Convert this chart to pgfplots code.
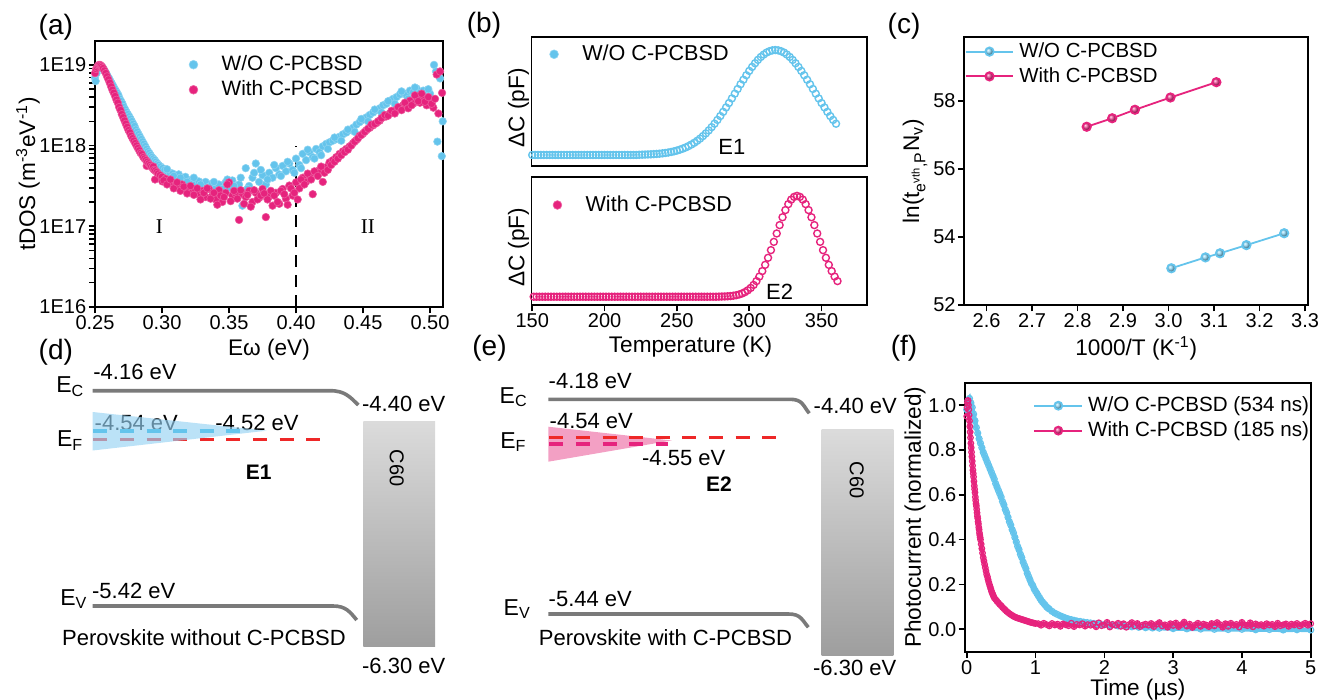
\documentclass[border=0pt]{standalone}
\usepackage{fontspec}
\setmainfont{Liberation Sans}
\newfontfamily\serifroman{Liberation Serif}
\usepackage{pgfplots}
\pgfplotsset{compat=1.18}
\definecolor{cblue}{RGB}{100,196,236}
\definecolor{cpink}{RGB}{230,35,125}
\definecolor{cred}{RGB}{238,40,40}
\definecolor{cgray}{RGB}{122,122,122}
\definecolor{tblue}{RGB}{150,210,243}
\definecolor{tpink}{RGB}{242,150,190}
\newcommand\tfont{\fontsize{10}{12}\selectfont}
\newcommand\lfont{\fontsize{11.3}{13}\selectfont}
\newcommand\gfont{\fontsize{10.4}{12}\selectfont}
\newcommand\pfont{\fontsize{14}{16}\selectfont}
\newcommand\sfont{\fontsize{11}{13}\selectfont}
\newcommand\efont{\fontsize{11.5}{13}\selectfont}
\pgfplotsset{
 panel/.style={scale only axis, axis line style={line width=0.9pt},
   every tick/.style={black, line width=0.8pt}, tick align=outside, major tick length=3.2pt,
   xtick pos=left, ytick pos=left, tick label style={font=\tfont, inner sep=1pt},
   label style={font=\lfont}, /pgf/number format/assume math mode=true,
   legend style={draw=none, fill=none, font=\gfont, inner sep=0pt, row sep=2.5pt,
     nodes={inner xsep=2.5pt, inner ysep=0.5pt}},
   legend cell align=left},
 markleg/.style={legend image code/.code={\path (0cm,0cm) (0.6cm,0cm); \draw[##1] plot coordinates {(0.2cm,0cm)};}},
 lineleg/.style={legend image code/.code={\draw[##1, mark repeat=2, mark phase=2] plot coordinates {(0cm,0cm)(0.42cm,0cm)(0.84cm,0cm)};}},
}
\begin{document}
\begin{tikzpicture}
\path[use as bounding box] (0,0) rectangle (661.5pt,-350pt);

% ---------------- (a)
\begin{axis}[panel, markleg, at={(47.5pt,-153.5pt)}, anchor=south west, width=174pt, height=133pt,
  xmin=0.25, xmax=0.5097, ymode=log, ymin=1e16, ymax=1.98e19,
  xtick={0.25,0.3,0.35,0.4,0.45,0.5}, xticklabels={0.25,0.30,0.35,0.40,0.45,0.50},
  ytick={1e16,1e17,1e18,1e19}, yticklabels={1E16,1E17,1E18,1E19},
  xlabel={Eω (eV)}, ylabel={tDOS (m\textsuperscript{-3}eV\textsuperscript{-1})},
  xlabel style={at={(axis description cs:0.5,-0.162)}, anchor=center},
  ylabel style={at={(axis description cs:-0.1925,0.5)}, anchor=center},
  legend style={at={(axis description cs:0.248,0.95)}, anchor=north west}]
\addlegendimage{only marks, mark=*, mark size=2.2pt, mark options={fill=cblue, draw=cblue!70!white, line width=0.3pt}}
\addlegendentry{W/O C-PCBSD}
\addlegendimage{only marks, mark=*, mark size=2.2pt, mark options={fill=cpink, draw=cpink!70!white, line width=0.3pt}}
\addlegendentry{With C-PCBSD}
\addplot[forget plot, only marks, mark=*, mark size=1.9pt, mark options={fill=cblue, draw=cblue!75!white, line width=0.3pt}] coordinates {
(0.2500,6.9e18)(0.2505,6.3e18)(0.2512,7.9e18)(0.2520,8.9e18)(0.2528,9.5e18)(0.2536,9.8e18)(0.2545,9.5e18)(0.2555,9.3e18)(0.2565,8.9e18)(0.2575,8.3e18)(0.2585,7.8e18)(0.2595,7.2e18)(0.2605,6.8e18)(0.2615,6.3e18)(0.2625,5.9e18)(0.2635,5.5e18)(0.2645,5.1e18)(0.2655,4.8e18)(0.2665,4.5e18)(0.2675,4.2e18)(0.2685,3.8e18)(0.2695,3.55e18)(0.2705,3.3e18)(0.2715,3.0e18)(0.2725,2.8e18)(0.2735,2.6e18)(0.2745,2.45e18)(0.2755,2.3e18)(0.2765,2.15e18)(0.2775,2.0e18)(0.2785,1.86e18)(0.2795,1.74e18)(0.2805,1.58e18)(0.2815,1.48e18)(0.2825,1.38e18)(0.2835,1.29e18)(0.2845,1.20e18)(0.2855,1.12e18)(0.2865,1.05e18)(0.2875,9.8e17)(0.2885,9.1e17)(0.2895,8.5e17)(0.2905,8.1e17)(0.2915,7.6e17)(0.2925,7.2e17)(0.2935,6.9e17)(0.2945,6.6e17)(0.2955,6.3e17)(0.2965,6.0e17)(0.2975,5.75e17)(0.2990,5.5e17)(0.3005,5.25e17)(0.3020,5.0e17)
(0.3040,4.8e17)(0.3060,4.6e17)(0.3080,4.5e17)(0.3100,4.2e17)(0.3125,4.4e17)(0.3150,3.8e17)(0.3175,4.1e17)(0.3200,3.6e17)(0.3225,3.8e17)(0.3250,3.4e17)(0.3275,3.6e17)(0.3300,3.16e17)(0.3325,3.55e17)(0.3350,3.1e17)(0.3375,3.4e17)(0.3400,2.95e17)(0.3425,3.3e17)(0.3450,2.9e17)(0.3475,3.5e17)(0.3500,3.0e17)(0.3525,3.7e17)(0.3550,2.8e17)(0.3575,3.3e17)(0.3600,1.8e17)(0.3625,5.25e17)(0.3650,3.16e17)(0.3675,4.0e17)(0.3700,6.0e17)(0.3725,3.55e17)(0.3750,4.3e17)(0.3775,3.3e17)(0.3800,4.6e17)(0.3825,4.0e17)(0.3850,5.25e17)(0.3875,4.4e17)(0.3900,5.6e17)(0.3925,4.8e17)(0.3950,6.0e17)(0.3975,5.0e17)(0.4000,6.9e17)(0.4025,5.75e17)(0.4050,7.9e17)(0.4075,6.6e17)(0.4100,8.3e17)(0.4125,7.2e17)(0.4150,9.1e17)(0.4175,8.3e17)(0.4200,9.8e17)(0.4225,1.05e18)(0.4250,1.10e18)(0.4275,1.15e18)(0.4300,1.20e18)(0.4325,1.29e18)(0.4350,1.38e18)(0.4375,1.45e18)(0.4400,1.55e18)(0.4425,1.66e18)(0.4450,1.82e18)(0.4475,1.95e18)(0.4500,2.09e18)(0.4525,2.24e18)(0.4550,2.4e18)(0.4575,2.57e18)(0.4600,2.75e18)(0.4625,2.9e18)(0.4650,3.16e18)(0.4675,3.3e18)(0.4700,3.6e18)(0.4725,3.8e18)(0.4750,4.0e18)(0.4775,4.3e18)(0.4800,4.5e18)(0.4825,4.2e18)(0.4850,4.8e18)(0.4875,4.6e18)(0.4900,5.1e18)(0.4925,4.5e18)(0.4950,4.8e18)(0.4975,4.0e18)(0.5000,4.4e18)(0.5010,3.55e18)(0.5030,1.0e19)(0.5045,8.3e18)(0.5055,1.12e18)(0.5075,6.8e18)(0.5088,7.4e17)(0.5095,2.0e18)
(0.30375,5.1e17)(0.30875,4.2e17)(0.31375,4.0e17)(0.31875,3.55e17)(0.32375,4.0e17)(0.32875,3.3e17)(0.33375,2.95e17)(0.33875,3.55e17)(0.34375,2.6e17)(0.34875,3.8e17)(0.35375,3.16e17)(0.35875,4.0e17)(0.36375,2.9e17)(0.36875,4.6e17)(0.37375,5.0e17)(0.37875,3.8e17)(0.38375,5.75e17)(0.38875,4.2e17)(0.39375,6.3e17)(0.39875,4.6e17)(0.40375,5.25e17)(0.40875,8.9e17)(0.41375,6.9e17)(0.41875,7.6e17)(0.42375,9.1e17)(0.42875,1.26e18)(0.43375,1.15e18)(0.43875,1.58e18)(0.44375,1.48e18)(0.44875,2.14e18)(0.45375,2.0e18)(0.45875,2.8e18)(0.46375,2.57e18)(0.46875,3.55e18)(0.47375,3.3e18)(0.47875,4.7e18)(0.48375,3.8e18)(0.48875,5.25e18)(0.49375,4.2e18)(0.49875,5.0e18)
};
\addplot[forget plot, only marks, mark=*, mark size=1.9pt, mark options={fill=cpink, draw=cpink!75!white, line width=0.3pt}] coordinates {
(0.2500,7.9e18)(0.2508,8.9e18)(0.2515,9.3e18)(0.2522,9.8e18)(0.2530,1.0e19)(0.2538,1.0e19)(0.2545,9.8e18)(0.2553,9.5e18)(0.2560,9.1e18)(0.2570,8.5e18)(0.2580,7.9e18)(0.2590,7.2e18)(0.2600,6.6e18)(0.2610,6.0e18)(0.2620,5.4e18)(0.2630,4.9e18)(0.2640,4.5e18)(0.2650,4.1e18)(0.2660,3.7e18)(0.2670,3.4e18)(0.2680,3.0e18)(0.2690,2.75e18)(0.2700,2.45e18)(0.2710,2.24e18)(0.2720,2.04e18)(0.2730,1.86e18)(0.2740,1.70e18)(0.2750,1.55e18)(0.2760,1.45e18)(0.2770,1.32e18)(0.2780,1.23e18)(0.2790,1.15e18)(0.2800,1.07e18)(0.2810,1.0e18)(0.2820,9.3e17)(0.2830,8.7e17)(0.2840,8.1e17)(0.2850,7.8e17)(0.2860,7.2e17)(0.2870,6.9e17)(0.2880,6.6e17)(0.2886,5.6e17)(0.2890,6.3e17)(0.2900,6.0e17)(0.2910,5.75e17)(0.2920,5.5e17)(0.2930,5.25e17)(0.2935,5.5e17)(0.2940,5.0e17)(0.2948,3.8e17)(0.2950,4.9e17)(0.2960,4.7e17)(0.2970,4.5e17)(0.2985,4.3e17)(0.3000,4.1e17)(0.3002,3.6e17)
(0.3025,3.9e17)(0.3050,3.55e17)(0.3075,3.4e17)(0.3100,3.16e17)(0.3125,3.1e17)(0.3150,3.3e17)(0.3175,2.9e17)(0.3200,2.95e17)(0.3225,2.7e17)(0.3250,2.8e17)(0.3275,2.5e17)(0.3300,2.75e17)(0.3325,2.3e17)(0.3350,2.9e17)(0.3375,2.4e17)(0.3400,2.15e17)(0.3425,2.8e17)(0.3450,2.0e17)(0.3475,2.6e17)(0.3500,3.5e17)(0.3525,2.4e17)(0.3550,2.55e17)(0.3575,1.2e17)(0.3600,2.5e17)(0.3625,2.3e17)(0.3650,2.75e17)(0.3675,2.0e17)(0.3700,2.6e17)(0.3725,2.25e17)(0.3750,2.9e17)(0.3775,1.3e17)(0.3800,2.35e17)(0.3825,1.8e17)(0.3850,2.6e17)(0.3875,1.9e17)(0.3900,2.9e17)(0.3925,2.2e17)(0.3950,3.2e17)(0.3975,2.4e17)(0.4000,3.5e17)(0.4025,2.95e17)(0.4050,4.0e17)(0.4075,3.55e17)(0.4100,4.3e17)(0.4125,2.5e17)(0.4150,4.6e17)(0.4175,5.0e17)(0.4200,3.55e17)(0.4225,5.4e17)(0.4250,6.2e17)(0.4275,6.6e17)(0.4300,7.2e17)(0.4325,7.9e17)(0.4350,8.5e17)(0.4375,9.1e17)(0.4400,9.8e17)(0.4425,1.07e18)(0.4450,1.17e18)(0.4475,1.32e18)(0.4500,1.41e18)(0.4525,1.55e18)(0.4550,1.66e18)(0.4575,1.78e18)(0.4600,1.9e18)(0.4625,2.04e18)(0.4650,2.24e18)(0.4675,2.3e18)(0.4700,2.5e18)(0.4725,2.6e18)(0.4750,2.8e18)(0.4775,2.95e18)(0.4800,3.16e18)(0.4825,3.0e18)(0.4850,3.6e18)(0.4875,3.3e18)(0.4900,4.0e18)(0.4925,3.4e18)(0.4950,3.8e18)(0.4975,3.16e18)(0.5000,3.6e18)(0.5025,2.95e18)(0.5050,7.6e18)(0.5075,8.3e18)(0.5090,4.5e18)(0.5100,1.86e18)
(0.30125,3.7e17)(0.30375,3.3e17)(0.30625,3.8e17)(0.30875,2.95e17)(0.31125,3.5e17)(0.31375,2.75e17)(0.31625,3.1e17)(0.31875,2.55e17)(0.32125,3.16e17)(0.32375,2.45e17)(0.32625,2.95e17)(0.32875,2.15e17)(0.33125,2.6e17)(0.33375,2.95e17)(0.33625,2.2e17)(0.33875,2.6e17)(0.34125,1.85e17)(0.34375,2.4e17)(0.34625,2.3e17)(0.34875,3.3e17)(0.35125,2.05e17)(0.35375,2.75e17)(0.35625,2.2e17)(0.35875,2.8e17)(0.36125,1.9e17)(0.36375,2.45e17)(0.36625,1.75e17)(0.36875,2.8e17)(0.37125,2.15e17)(0.37375,2.4e17)(0.37625,2.55e17)(0.37875,2.15e17)(0.38125,2.75e17)(0.38375,2.4e17)(0.38625,2.0e17)(0.38875,2.75e17)(0.39125,2.5e17)(0.39375,1.85e17)(0.39625,2.95e17)(0.39875,2.6e17)(0.40125,2.15e17)(0.40375,3.8e17)(0.40625,3.3e17)(0.40875,4.5e17)(0.41125,3.8e17)(0.41375,4.8e17)(0.41625,4.2e17)(0.41875,5.5e17)(0.42125,4.6e17)(0.42375,5.0e17)(0.42625,5.75e17)(0.42875,6.3e17)(0.43125,6.9e17)(0.43375,7.6e17)(0.43625,8.3e17)(0.43875,8.9e17)(0.44125,1.0e18)(0.44375,1.12e18)(0.44625,1.23e18)(0.44875,1.35e18)(0.45125,1.48e18)(0.45375,1.62e18)(0.45625,1.82e18)(0.45875,1.86e18)(0.46125,2.0e18)(0.46375,2.19e18)(0.46625,2.4e18)(0.46875,2.35e18)(0.47125,2.7e18)(0.47375,2.5e18)(0.47625,3.0e18)(0.47875,2.75e18)(0.48125,3.4e18)(0.48375,2.9e18)(0.48625,3.16e18)(0.48875,4.2e18)(0.49125,3.55e18)(0.49375,4.4e18)(0.49625,3.5e18)(0.49875,4.0e18)(0.50125,3.3e18)(0.50375,3.8e18)(0.50625,2.5e18)
};
\addplot[forget plot, black, line width=1pt, dash pattern=on 6pt off 4pt] coordinates {(0.4,1e16)(0.4,9.8e17)};
\node[font=\serifroman\fontsize{10.5}{12}\selectfont] at (axis cs:0.298,1e17) {I};
\node[font=\serifroman\fontsize{10.5}{12}\selectfont] at (axis cs:0.4537,1e17) {II};
\end{axis}

% ---------------- (b) top
\begin{axis}[panel, markleg, at={(265.75pt,-83pt)}, anchor=south west, width=167.75pt, height=64.65pt,
  xmin=149.5, xmax=381.4, ymin=-0.105, ymax=1.127, xtick=\empty, ytick=\empty,
  ylabel={ΔC (pF)}, ylabel style={at={(axis description cs:-0.039,0.45)}, anchor=center},
  legend style={at={(axis description cs:0.031,0.947)}, anchor=north west, font=\fontsize{10.8}{12}\selectfont}]
\addlegendimage{only marks, mark=*, mark size=2.2pt, mark options={fill=cblue, draw=cblue!70!white, line width=0.3pt}}
\addlegendentry{W/O C-PCBSD}
\addplot[forget plot, only marks, mark=o, mark size=1.75pt, cblue, mark options={line width=0.7pt}] coordinates {
(150,0)(152,0)(154,0)(156,0)(158,0)(160,0)(162,0)(164,0)(166,0)(168,0)(170,0)(172,0)(174,0)(176,0)(178,0)(180,0)(182,0)(184,0)(186,0)(188,0)(190,0)(192,0)(194,0)(196,0)(198,0)(200,0)(202,0)(204,0)(206,0)(208,0)(210,0)(212,0)(214,0)(216,0)(218,0)(220,0)(222,0)(224,0.002)(226,0.003)(228,0.004)
(230,0.005)(232,0.0063)(234,0.0079)(236,0.0099)(238,0.0124)(240,0.0154)(242,0.019)(244,0.0234)(246,0.0286)(248,0.0347)(250,0.042)(252,0.0504)(254,0.0602)(256,0.0716)(258,0.0847)(260,0.0996)(262,0.116)(264,0.135)(266,0.156)(268,0.18)(270,0.206)(272,0.234)(274,0.265)(276,0.298)(278,0.334)(280,0.371)(282,0.411)(284,0.453)(286,0.495)(288,0.539)(290,0.584)(292,0.629)(294,0.674)(296,0.717)(298,0.76)(300,0.801)(302,0.839)(304,0.874)(306,0.906)(308,0.934)(310,0.957)(312,0.976)(314,0.989)(316,0.997)(318,1.0)(320,0.997)(322,0.989)(324,0.976)(326,0.957)(328,0.934)(330,0.906)(332,0.874)(334,0.839)(336,0.801)(338,0.76)(340,0.717)(342,0.674)(344,0.629)(346,0.584)(348,0.539)(350,0.495)(352,0.453)(354,0.411)(356,0.371)(358,0.334)(360,0.298)
};
\node[font=\sfont] at (axis cs:288,0.08) {E1};
\end{axis}

% ---------------- (b) bottom
\begin{axis}[panel, markleg, at={(265.75pt,-152.5pt)}, anchor=south west, width=167.75pt, height=64.15pt,
  xmin=149.5, xmax=381.4, ymin=-0.082, ymax=1.19, xtick={150,200,250,300,350}, ytick=\empty,
  xlabel={Temperature (K)}, xlabel style={at={(axis description cs:0.474,-0.325)}, anchor=center},
  ylabel={ΔC (pF)}, ylabel style={at={(axis description cs:-0.039,0.45)}, anchor=center},
  legend style={at={(axis description cs:0.041,0.863)}, anchor=north west, font=\fontsize{10.8}{12}\selectfont}]
\addlegendimage{only marks, mark=*, mark size=2.2pt, mark options={fill=cpink, draw=cpink!70!white, line width=0.3pt}}
\addlegendentry{With C-PCBSD}
\addplot[forget plot, only marks, mark=o, mark size=1.75pt, cpink, mark options={line width=0.7pt}] coordinates {
(151,0)(153,0)(155,0)(157,0)(159,0)(161,0)(163,0)(165,0)(167,0)(169,0)(171,0)(173,0)(175,0)(177,0)(179,0)(181,0)(183,0)(185,0)(187,0)(189,0)(191,0)(193,0)(195,0)(197,0)(199,0)(201,0)(203,0)(205,0)(207,0)(209,0)(211,0)(213,0)(215,0)(217,0)(219,0)(221,0)(223,0)(225,0)(227,0)(229,0)(231,0)(233,0)(235,0)(237,0)(239,0)(241,0)(243,0)(245,0)(247,0)(249,0)(251,0)(253,0)(255,0)(257,0)(259,0)(261,0)(263,0)(265,0)(267,0)(269,0)(271,0)(273,0)(275,0)(277,0)(279,0.001)(281,0.002)
(283,0.0026)(285,0.0041)(287,0.0065)(289,0.01)(291,0.015)(293,0.0222)(295,0.0321)(297,0.0457)(299,0.0638)(301,0.0873)(303,0.117)(305,0.155)(307,0.2)(309,0.254)(311,0.316)(313,0.386)(315,0.462)(317,0.544)(319,0.627)(321,0.71)(323,0.788)(325,0.859)(327,0.918)(329,0.963)(331,0.99)(333,1.0)(335,0.99)(337,0.963)(339,0.918)(341,0.859)(343,0.788)(345,0.71)(347,0.627)(349,0.544)(351,0.462)(353,0.386)(355,0.316)(357,0.254)(359,0.2)(361,0.155)
};
\node[font=\sfont] at (axis cs:321,0.05) {E2};
\end{axis}

% ---------------- (c)
\begin{axis}[panel, lineleg, at={(482.15pt,-152.5pt)}, anchor=south west, width=172pt, height=133.85pt,
  xmin=2.551, xmax=3.307, ymin=52, ymax=59.87,
  xtick={2.6,2.7,2.8,2.9,3.0,3.1,3.2,3.3}, ytick={52,54,56,58},
  xticklabel style={/pgf/number format/fixed, /pgf/number format/fixed zerofill, /pgf/number format/precision=1},
  xlabel={1000/T (K\textsuperscript{-1})}, xlabel style={at={(axis description cs:0.5,-0.161)}, anchor=center},
  ylabel={ln(t\textsubscript{e\textsuperscript{vth},P}N\textsubscript{v})}, ylabel style={at={(axis description cs:-0.143,0.5)}, anchor=center},
  legend style={at={(axis description cs:0,0.985)}, anchor=north west, font=\fontsize{10.2}{12}\selectfont}]
\addplot[cblue, line width=0.9pt, mark=ball, ball color=cblue!80!white, mark size=2.1pt] coordinates {(3.006,53.08)(3.081,53.40)(3.113,53.52)(3.171,53.76)(3.254,54.11)};
\addlegendentry{W/O C-PCBSD}
\addplot[cpink, line width=0.9pt, mark=ball, ball color=cpink!90!white, mark size=2.1pt] coordinates {(2.820,57.24)(2.876,57.49)(2.926,57.74)(3.004,58.10)(3.105,58.55)};
\addlegendentry{With C-PCBSD}
\end{axis}

% ---------------- (f)
\begin{axis}[panel, lineleg, at={(482.5pt,-325.85pt)}, anchor=south west, width=172.85pt, height=134.5pt,
  xmin=-0.025, xmax=5, ymin=-0.1, ymax=1.1,
  xtick={0,1,2,3,4,5}, ytick={0,0.2,0.4,0.6,0.8,1.0},
  yticklabel style={/pgf/number format/fixed, /pgf/number format/fixed zerofill, /pgf/number format/precision=1},
  xlabel={Time (µs)}, xlabel style={at={(axis description cs:0.5,-0.142)}, anchor=center},
  ylabel={Photocurrent (normalized)}, ylabel style={at={(axis description cs:-0.1446,0.5)}, anchor=center},
  legend style={at={(axis description cs:0.197,0.953)}, anchor=north west, font=\fontsize{10.3}{12}\selectfont}]
\addlegendimage{cblue, line width=0.9pt, mark=ball, ball color=cblue!80!white, mark size=2pt}
\addlegendentry{W/O C-PCBSD (534 ns)}
\addlegendimage{cpink, line width=0.9pt, mark=ball, ball color=cpink!90!white, mark size=2pt}
\addlegendentry{With C-PCBSD (185 ns)}
\addplot[forget plot, cblue, line width=2.2pt, mark=o, mark size=1.5pt, mark options={line width=0.6pt}] coordinates {
(0.00,0.98)(0.02,1.02)(0.04,1.03)(0.06,1.01)(0.08,0.99)(0.10,0.96)(0.12,0.93)(0.14,0.90)(0.16,0.875)(0.18,0.85)(0.20,0.83)(0.22,0.81)(0.24,0.79)(0.26,0.775)(0.28,0.76)(0.30,0.745)(0.32,0.73)(0.34,0.715)(0.36,0.70)(0.38,0.685)(0.40,0.67)(0.42,0.65)(0.44,0.635)(0.46,0.62)(0.48,0.605)(0.50,0.59)(0.52,0.57)(0.54,0.555)(0.56,0.535)(0.58,0.52)(0.60,0.50)(0.62,0.48)(0.64,0.465)(0.66,0.445)(0.68,0.43)(0.70,0.41)(0.72,0.39)(0.74,0.37)(0.76,0.355)(0.78,0.335)(0.80,0.32)(0.82,0.30)(0.84,0.285)(0.86,0.27)(0.88,0.25)(0.90,0.235)(0.92,0.22)(0.94,0.205)(0.96,0.195)(0.98,0.18)(1.00,0.17)(1.02,0.16)(1.04,0.15)(1.06,0.14)(1.08,0.13)(1.10,0.122)(1.12,0.115)(1.14,0.108)(1.16,0.10)(1.18,0.095)(1.20,0.09)(1.24,0.08)(1.28,0.072)(1.32,0.066)(1.36,0.06)(1.40,0.055)(1.44,0.05)(1.48,0.046)(1.52,0.043)(1.56,0.04)(1.60,0.037)(1.65,0.035)(1.70,0.032)(1.75,0.03)(1.80,0.028)(1.85,0.026)(1.90,0.024)(1.95,0.022)(2.00,0.02)(2.10,0.018)(2.20,0.015)(2.30,0.013)(2.40,0.011)(2.50,0.009)(2.60,0.007)(2.70,0.006)(2.80,0.005)(3.00,0.003)(3.20,0.002)(3.40,0.001)(3.60,0.000)(3.80,-0.001)(4.00,0.000)(4.20,-0.002)(4.40,-0.001)(4.60,-0.003)(4.80,-0.002)(5.00,-0.003)
};
\addplot[forget plot, cpink, line width=1.8pt, mark=o, mark size=1.4pt, mark options={line width=0.6pt}] coordinates {
(0.00,0.95)(0.005,0.99)(0.01,1.01)(0.015,1.02)(0.02,1.02)(0.025,1.00)(0.03,0.98)(0.035,0.955)(0.04,0.93)(0.045,0.905)(0.05,0.88)(0.055,0.855)(0.06,0.83)(0.065,0.81)(0.07,0.79)(0.075,0.77)(0.08,0.75)(0.085,0.73)(0.09,0.71)(0.095,0.695)(0.10,0.68)(0.105,0.66)(0.11,0.64)(0.115,0.625)(0.12,0.61)(0.125,0.59)(0.13,0.575)(0.135,0.56)(0.14,0.55)(0.145,0.535)(0.15,0.52)(0.155,0.505)(0.16,0.495)(0.165,0.48)(0.17,0.47)(0.175,0.455)(0.18,0.445)(0.185,0.43)(0.19,0.42)(0.195,0.41)(0.20,0.40)(0.21,0.38)(0.22,0.36)(0.23,0.34)(0.24,0.32)(0.25,0.305)(0.26,0.29)(0.27,0.275)(0.28,0.26)(0.29,0.245)(0.30,0.235)(0.31,0.222)(0.32,0.21)(0.33,0.20)(0.34,0.19)(0.35,0.18)(0.36,0.17)(0.37,0.162)(0.38,0.155)(0.39,0.147)(0.40,0.14)(0.42,0.133)(0.44,0.125)(0.46,0.118)(0.48,0.111)(0.50,0.105)(0.52,0.098)(0.54,0.092)(0.56,0.086)(0.58,0.08)(0.60,0.075)(0.62,0.07)(0.64,0.066)(0.66,0.062)(0.68,0.058)(0.70,0.055)(0.72,0.052)(0.74,0.05)(0.76,0.048)(0.78,0.046)(0.80,0.044)(0.82,0.042)(0.84,0.04)(0.86,0.038)(0.88,0.036)(0.90,0.034)(0.92,0.032)(0.94,0.03)(0.96,0.029)(0.98,0.027)(1.00,0.026)
(1.04,0.025)(1.08,0.018)(1.12,0.027)(1.16,0.021)(1.20,0.015)(1.24,0.026)(1.28,0.019)(1.32,0.023)(1.36,0.013)(1.40,0.024)(1.44,0.020)(1.48,0.016)(1.52,0.027)(1.56,0.012)(1.60,0.022)(1.64,0.019)(1.68,0.025)(1.72,0.014)(1.76,0.021)(1.80,0.018)
(1.84,0.024)(1.88,0.011)(1.92,0.029)(1.96,0.016)(2.00,0.020)(2.04,0.031)(2.08,0.010)(2.12,0.022)(2.16,0.018)(2.20,0.027)(2.24,0.013)(2.28,0.025)(2.32,0.009)(2.36,0.021)(2.40,0.030)(2.44,0.015)(2.48,0.026)(2.52,0.012)(2.56,0.019)(2.60,0.023)
(2.64,0.018)(2.68,0.026)(2.72,0.012)(2.76,0.022)(2.80,0.030)(2.84,0.015)(2.88,0.020)(2.92,0.009)(2.96,0.025)(3.00,0.017)(3.04,0.028)(3.08,0.012)(3.12,0.021)(3.16,0.032)(3.20,0.014)(3.24,0.023)(3.28,0.008)(3.32,0.019)(3.36,0.027)(3.40,0.013)
(3.44,0.023)(3.48,0.019)(3.52,0.012)(3.56,0.026)(3.60,0.015)(3.64,0.030)(3.68,0.021)(3.72,0.009)(3.76,0.025)(3.80,0.013)(3.84,0.027)(3.88,0.018)(3.92,0.022)(3.96,0.010)(4.00,0.031)(4.04,0.020)(4.08,0.016)(4.12,0.029)(4.16,0.011)(4.20,0.024)
(4.24,0.018)(4.28,0.021)(4.32,0.014)(4.36,0.025)(4.40,0.019)(4.44,0.022)(4.48,0.012)(4.52,0.027)(4.56,0.016)(4.60,0.020)(4.64,0.024)(4.68,0.013)(4.72,0.023)(4.76,0.019)(4.80,0.026)(4.84,0.015)(4.88,0.021)(4.92,0.027)(4.96,0.018)(5.00,0.025)
};
\end{axis}

% ---------------- (d), (e) schematics and panel labels
\begin{scope}[x=0.5pt,y=-0.5pt]
\node[font=\pfont] at (55.8,27.5) {(a)};
\node[font=\pfont] at (484,25) {(b)};
\node[font=\pfont] at (904,26.7) {(c)};
\node[font=\pfont] at (55.8,352) {(d)};
\node[font=\pfont] at (489.5,348) {(e)};
\node[font=\pfont] at (904,348) {(f)};
% (d)
\draw[cgray, line width=1.8pt] (92.7,390.7) -- (330,390.7) .. controls (345,390.7) and (350,397) .. (358.3,405);
\draw[cgray, line width=1.8pt] (92.7,606) -- (333,606) .. controls (346,606) and (350,612) .. (356.7,620);
\shade[top color=black!14, bottom color=black!38] (363.3,421) rectangle (435,646.7);
\node[font=\fontsize{10}{12}\selectfont, rotate=-90] at (396.7,468.3) {C60};
\node[font=\efont, anchor=base west, inner sep=0pt] at (56,393) {E\textsubscript{C}};
\node[font=\efont, anchor=base west, inner sep=0pt] at (56.7,446.7) {E\textsubscript{F}};
\node[font=\efont, anchor=base west, inner sep=0pt] at (60,605) {E\textsubscript{V}};
\node[font=\sfont, anchor=base west, inner sep=0pt] at (93,379.3) {-4.16 eV};
\node[font=\sfont, anchor=base west, inner sep=0pt] at (361.7,411.7) {-4.40 eV};
\node[font=\sfont, anchor=base west, inner sep=0pt] at (94.3,430) {-4.54 eV};
\node[font=\sfont, anchor=base west, inner sep=0pt] at (215,430) {-4.52 eV};
\node[font=\sfont, anchor=base west, inner sep=0pt] at (91.7,598.3) {-5.42 eV};
\node[font=\sfont, anchor=base west, inner sep=0pt] at (361.7,673.3) {-6.30 eV};
\node[font=\sfont, anchor=base, inner sep=0pt] at (204,645) {Perovskite without C-PCBSD};
\node[font=\bfseries\fontsize{10.5}{12}\selectfont, anchor=base, inner sep=0pt] at (258.7,479.3) {E1};
\draw[cred, line width=1.8pt, dash pattern=on 7pt off 6.3pt] (93.3,439.3) -- (323.3,439.3);
\fill[tblue, opacity=0.65] (92.7,412) -- (266.7,430.7) -- (92.7,450.5) -- cycle;
\draw[cblue, line width=1.8pt, dash pattern=on 7pt off 6.3pt] (93.3,430.7) -- (240,430.7);
% (e)
\draw[cgray, line width=1.8pt] (548.3,399.3) -- (790,399.3) .. controls (803,399.3) and (803,406) .. (809.3,413.3);
\draw[cgray, line width=1.8pt] (548.3,614) -- (788.3,614) .. controls (801,614) and (802,620) .. (808.3,627.3);
\shade[top color=black!14, bottom color=black!38] (821.7,429.3) rectangle (893.3,655);
\node[font=\fontsize{10}{12}\selectfont, rotate=-90] at (856.7,480) {C60};
\node[font=\efont, anchor=base west, inner sep=0pt] at (499.3,403.3) {E\textsubscript{C}};
\node[font=\efont, anchor=base west, inner sep=0pt] at (500,448.3) {E\textsubscript{F}};
\node[font=\efont, anchor=base west, inner sep=0pt] at (503.3,615) {E\textsubscript{V}};
\node[font=\sfont, anchor=base west, inner sep=0pt] at (548.3,388.3) {-4.18 eV};
\node[font=\sfont, anchor=base west, inner sep=0pt] at (813.3,414) {-4.40 eV};
\node[font=\sfont, anchor=base west, inner sep=0pt] at (549.3,428.3) {-4.54 eV};
\node[font=\sfont, anchor=base west, inner sep=0pt] at (641.7,465) {-4.55 eV};
\node[font=\sfont, anchor=base west, inner sep=0pt] at (548.3,606.7) {-5.44 eV};
\node[font=\sfont, anchor=base west, inner sep=0pt] at (812.7,675) {-6.30 eV};
\node[font=\sfont, anchor=base, inner sep=0pt] at (665.5,645) {Perovskite with C-PCBSD};
\node[font=\bfseries\fontsize{10.5}{12}\selectfont, anchor=base, inner sep=0pt] at (719,491.7) {E2};
\fill[tpink, opacity=0.9] (548.3,426.7) -- (671.7,440.5) -- (548.3,461.7) -- cycle;
\draw[cred, line width=1.8pt, dash pattern=on 7pt off 6.3pt] (549.3,437.5) -- (778.3,437.5);
\draw[cpink, line width=1.8pt, dash pattern=on 7pt off 6.3pt] (549.3,444) -- (668.3,444);
\end{scope}
\end{tikzpicture}
\end{document}
